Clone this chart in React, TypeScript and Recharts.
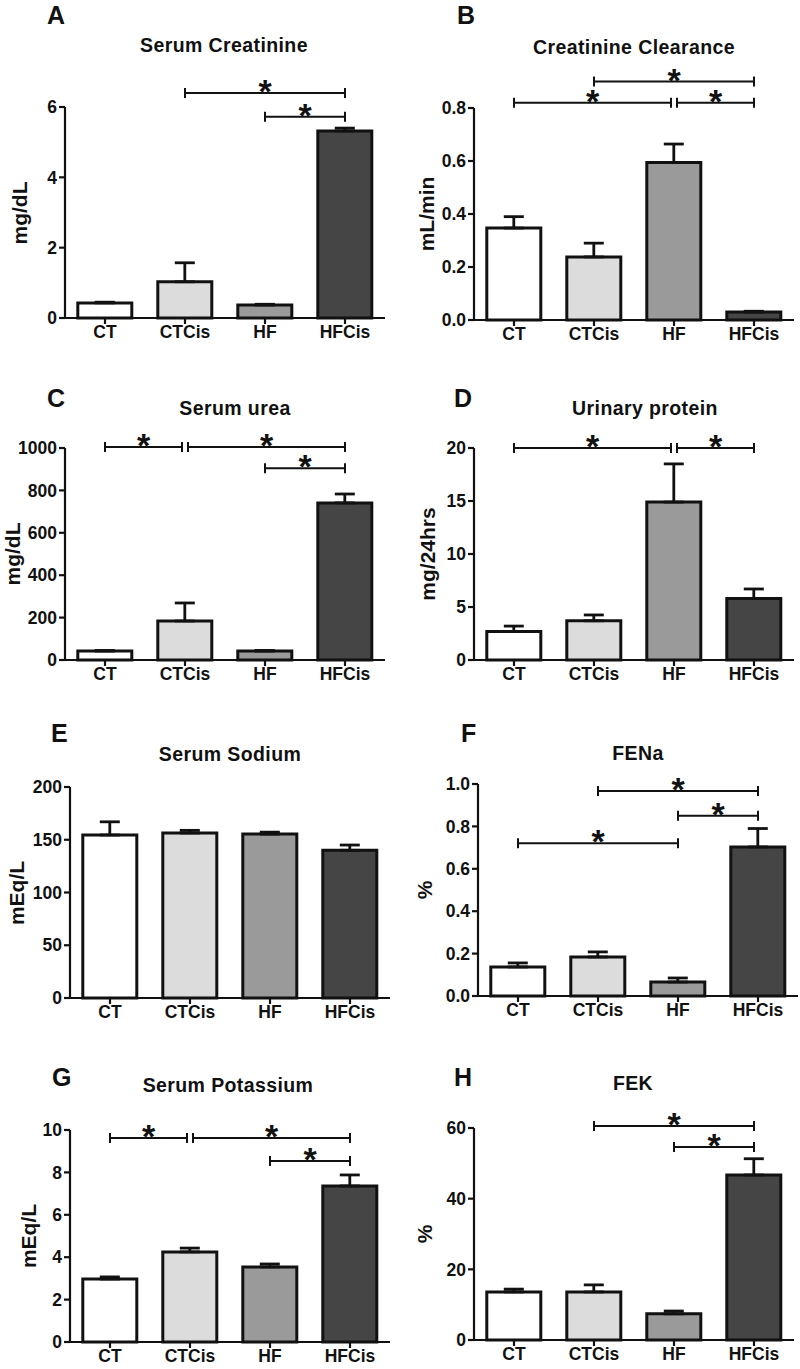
import React from "react";
import { BarChart, Bar, XAxis, YAxis, Cell, ErrorBar, ReferenceLine } from "recharts";

const FONT = "'Liberation Sans', Arial, sans-serif";

const groups = ["CT", "CTCis", "HF", "HFCis"];
const fills = ["#ffffff", "#dcdcdc", "#9a9a9a", "#454545"];

// A - serum creatinine
const creatinineMean = [0.43, 1.03, 0.37, 5.32];
const creatinineSem = [0.02, 0.54, 0.02, 0.08];
const creatinineTicks = [0, 2, 4, 6];

// B - creatinine clearance
const clearanceMean = [0.347, 0.238, 0.594, 0.03];
const clearanceSem = [0.043, 0.052, 0.07, 0.003];
const clearanceTicks = [0, 0.2, 0.4, 0.6, 0.8];

// C - serum urea
const ureaMean = [42, 184, 42, 741];
const ureaSem = [3, 85, 3, 42];
const ureaTicks = [0, 200, 400, 600, 800, 1000];

// D - urinary protein
const proteinMean = [2.7, 3.7, 14.9, 5.8];
const proteinSem = [0.5, 0.55, 3.6, 0.9];
const proteinTicks = [0, 5, 10, 15, 20];

// E - serum sodium
const sodiumMean = [154.5, 156.4, 155.4, 140];
const sodiumSem = [12.5, 2.5, 1.8, 5];
const sodiumTicks = [0, 50, 100, 150, 200];

// F - FENa
const fenaMean = [0.137, 0.184, 0.066, 0.703];
const fenaSem = [0.019, 0.024, 0.019, 0.087];
const fenaTicks = [0, 0.2, 0.4, 0.6, 0.8, 1.0];

// G - serum potassium
const potassiumMean = [2.97, 4.25, 3.54, 7.36];
const potassiumSem = [0.1, 0.18, 0.14, 0.52];
const potassiumTicks = [0, 2, 4, 6, 8, 10];

// H - FEK
const fekMean = [13.6, 13.6, 7.4, 46.7];
const fekSem = [0.8, 2.0, 0.8, 4.6];
const fekTicks = [0, 20, 40, 60];

type Bracket = { from: string; to: string; y: number };

const creatinineSig: Bracket[] = [
  { from: "CTCis", to: "HFCis", y: 6.4 },
  { from: "HF", to: "HFCis", y: 5.72 },
];
const clearanceSig: Bracket[] = [
  { from: "CTCis", to: "HFCis", y: 0.9 },
  { from: "CT", to: "HF", y: 0.82 },
  { from: "HF", to: "HFCis", y: 0.82 },
];
const ureaSig: Bracket[] = [
  { from: "CT", to: "CTCis", y: 1005 },
  { from: "CTCis", to: "HFCis", y: 1005 },
  { from: "HF", to: "HFCis", y: 905 },
];
const proteinSig: Bracket[] = [
  { from: "CT", to: "HF", y: 20 },
  { from: "HF", to: "HFCis", y: 20 },
];
const fenaSig: Bracket[] = [
  { from: "CTCis", to: "HFCis", y: 0.967 },
  { from: "HF", to: "HFCis", y: 0.85 },
  { from: "CT", to: "HF", y: 0.72 },
];
const potassiumSig: Bracket[] = [
  { from: "CT", to: "CTCis", y: 9.62 },
  { from: "CTCis", to: "HFCis", y: 9.62 },
  { from: "HF", to: "HFCis", y: 8.54 },
];
const fekSig: Bracket[] = [
  { from: "CTCis", to: "HFCis", y: 60.6 },
  { from: "HF", to: "HFCis", y: 54.6 },
];

const panels = [
  { letter: "A", title: "Serum Creatinine", unit: "mg/dL", mean: creatinineMean, sem: creatinineSem, ticks: creatinineTicks, sig: creatinineSig, dec: 0,
    col: 0, L: 65, R: 385, T: 107, B: 318, unitX: 20, titleX: 224, titleY: 45, letterX: 47, letterY: 3 },
  { letter: "B", title: "Creatinine Clearance", unit: "mL/min", mean: clearanceMean, sem: clearanceSem, ticks: clearanceTicks, sig: clearanceSig, dec: 1,
    col: 1, L: 474, R: 794, T: 108, B: 320, unitX: 427, titleX: 634, titleY: 47, letterX: 457, letterY: 3 },
  { letter: "C", title: "Serum urea", unit: "mg/dL", mean: ureaMean, sem: ureaSem, ticks: ureaTicks, sig: ureaSig, dec: 0,
    col: 0, L: 65, R: 385, T: 448, B: 660, unitX: 13, titleX: 235, titleY: 408, letterX: 47, letterY: 386 },
  { letter: "D", title: "Urinary protein", unit: "mg/24hrs", mean: proteinMean, sem: proteinSem, ticks: proteinTicks, sig: proteinSig, dec: 0,
    col: 1, L: 474, R: 794, T: 448, B: 660, unitX: 428, titleX: 645, titleY: 408, letterX: 454, letterY: 386 },
  { letter: "E", title: "Serum Sodium", unit: "mEq/L", mean: sodiumMean, sem: sodiumSem, ticks: sodiumTicks, sig: [] as Bracket[], dec: 0,
    col: 0, L: 70, R: 390, T: 787, B: 998, unitX: 17, titleX: 230, titleY: 754, letterX: 51, letterY: 721 },
  { letter: "F", title: "FENa", unit: "%", mean: fenaMean, sem: fenaSem, ticks: fenaTicks, sig: fenaSig, dec: 1,
    col: 1, L: 478, R: 798, T: 784, B: 996, unitX: 425, titleX: 638, titleY: 753, letterX: 461, letterY: 721 },
  { letter: "G", title: "Serum Potassium", unit: "mEq/L", mean: potassiumMean, sem: potassiumSem, ticks: potassiumTicks, sig: potassiumSig, dec: 0,
    col: 0, L: 70, R: 390, T: 1130, B: 1342, unitX: 29, titleX: 228, titleY: 1085, letterX: 52, letterY: 1065 },
  { letter: "H", title: "FEK", unit: "%", mean: fekMean, sem: fekSem, ticks: fekTicks, sig: fekSig, dec: 0,
    col: 1, L: 474, R: 794, T: 1128, B: 1340, unitX: 425, titleX: 633, titleY: 1083, letterX: 454, letterY: 1065 },
];

// significance bracket: line with end caps and an asterisk on top
const bracketShape = (shiftL: number, shiftR: number) => (props: any) => {
  const { x1, x2, y1 } = props;
  const a = Math.min(x1, x2) + shiftL;
  const b = Math.max(x1, x2) + shiftR;
  return (
    <g>
      <path
        d={`M${a},${y1 - 5}V${y1 + 5}M${a},${y1}H${b}M${b},${y1 - 5}V${y1 + 5}`}
        stroke="#111"
        strokeWidth={2}
        fill="none"
      />
      <text x={(a + b) / 2} y={y1 + 10} textAnchor="middle" fontSize={34} fontWeight="bold" fontFamily={FONT} fill="#111">
        *
      </text>
    </g>
  );
};

const axisStyle = { stroke: "#111", strokeWidth: 2.2 };
const tickStyle = { fill: "#111", fontSize: 17.5, fontWeight: "bold" as const, fontFamily: FONT };

function Panel({ p }: { p: (typeof panels)[number] }) {
  const data = groups.map((g, i) => ({ group: g, value: p.mean[i], err: [0, p.sem[i]] }));
  const left = p.col * 400;
  const top = p.T - 48;
  const height = p.B - top + 30;
  const max = p.ticks[p.ticks.length - 1];

  return (
    <>
      <div style={{ position: "absolute", left, top, width: 400, height }}>
        <BarChart
          width={400}
          height={height}
          data={data}
          margin={{ top: 48, right: left + 400 - p.R, left: 0, bottom: 0 }}
          barCategoryGap="16%"
        >
          <XAxis
            dataKey="group"
            height={30}
            interval={0}
            axisLine={axisStyle}
            tickLine={axisStyle}
            tickSize={6}
            tick={tickStyle}
          />
          <YAxis
            width={p.L - left}
            domain={[0, max]}
            ticks={p.ticks}
            interval={0}
            axisLine={axisStyle}
            tickLine={axisStyle}
            tickSize={6}
            tick={tickStyle}
            tickFormatter={(v: number) => v.toFixed(p.dec)}
          />
          <Bar dataKey="value" stroke="#111" strokeWidth={3} isAnimationActive={false} activeBar={false}>
            {data.map((d, i) => (
              <Cell key={d.group} fill={fills[i]} />
            ))}
            <ErrorBar dataKey="err" direction="y" width={10} stroke="#111" strokeWidth={2.8} />
          </Bar>
          {p.sig.map((b, i) => {
            const joinL = p.sig.some((o) => o !== b && o.y === b.y && o.to === b.from);
            const joinR = p.sig.some((o) => o !== b && o.y === b.y && o.from === b.to);
            return (
              <ReferenceLine
                key={i}
                segment={[
                  { x: b.from, y: b.y },
                  { x: b.to, y: b.y },
                ]}
                ifOverflow="visible"
                shape={bracketShape(joinL ? 3 : 0, joinR ? -3 : 0)}
              />
            );
          })}
        </BarChart>
      </div>
      <div
        style={{
          position: "absolute",
          left: p.letterX,
          top: p.letterY,
          fontSize: 25,
          fontWeight: "bold",
          lineHeight: "25px",
        }}
      >
        {p.letter}
      </div>
      <div
        style={{
          position: "absolute",
          left: p.titleX,
          top: p.titleY,
          transform: "translate(-50%, -50%)",
          fontSize: 19.5,
          fontWeight: "bold",
          whiteSpace: "nowrap",
          letterSpacing: 0.4,
        }}
      >
        {p.title}
      </div>
      <div
        style={{
          position: "absolute",
          left: p.unitX,
          top: (p.T + p.B) / 2,
          transform: "translate(-50%, -50%) rotate(-90deg)",
          fontSize: 21,
          fontWeight: "bold",
          whiteSpace: "nowrap",
        }}
      >
        {p.unit}
      </div>
    </>
  );
}

export default function App() {
  return (
    <div
      style={{
        position: "absolute",
        left: 0,
        top: 0,
        width: 800,
        height: 1369,
        background: "#fff",
        color: "#111",
        fontFamily: FONT,
        overflow: "hidden",
      }}
    >
      {panels.map((p) => (
        <Panel key={p.letter} p={p} />
      ))}
    </div>
  );
}
